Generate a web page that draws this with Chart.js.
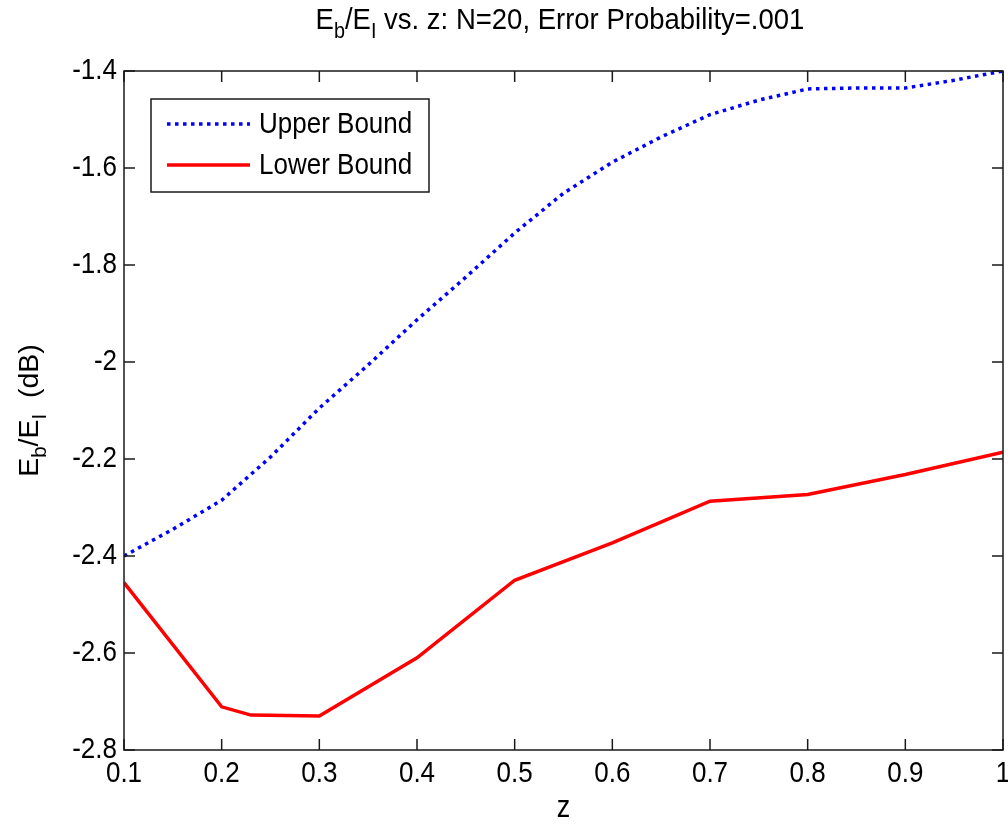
<!DOCTYPE html>
<html>
<head>
<meta charset="utf-8">
<script src="https://cdn.jsdelivr.net/npm/chart.js@4.4.1/dist/chart.umd.min.js"></script>
<style>
html, body { margin: 0; padding: 0; background: #fff; }
#c { display: block; }
</style>
</head>
<body>
<canvas id="c" width="1008" height="829"></canvas>
<script>
// values
const zUpper = [0.1, 0.15, 0.2, 0.25, 0.3, 0.35, 0.4, 0.45, 0.5, 0.55, 0.6, 0.65, 0.7, 0.75, 0.8, 0.85, 0.9, 0.95, 1.0];
const upperBound = [-2.40, -2.345, -2.285, -2.196, -2.095, -2.006, -1.913, -1.825, -1.734, -1.652, -1.588, -1.536, -1.49, -1.46, -1.437, -1.435, -1.435, -1.419, -1.40];
const zLower = [0.1, 0.2, 0.23, 0.3, 0.4, 0.5, 0.6, 0.7, 0.8, 0.9, 1.0];
const lowerBound = [-2.455, -2.711, -2.728, -2.73, -2.61, -2.45, -2.373, -2.287, -2.273, -2.232, -2.186];
const xTicks = [0.1, 0.2, 0.3, 0.4, 0.5, 0.6, 0.7, 0.8, 0.9, 1];
const yTicks = [-2.8, -2.6, -2.4, -2.2, -2, -1.8, -1.6, -1.4];
const seriesNames = ['Upper Bound', 'Lower Bound'];

const FONT = '"Liberation Sans", Arial, sans-serif';
const STRETCH = 1.14; // the reference text is a little taller than wide
const fmt = v => String(Math.round(v * 10) / 10);

function drawText(ctx, text, x, y, size, align, stretch) {
    ctx.save();
    ctx.translate(x, y);
    ctx.scale(1, stretch);
    ctx.font = size + 'px ' + FONT;
    ctx.textAlign = align;
    ctx.textBaseline = 'middle';
    ctx.fillText(text, 0, 0);
    ctx.restore();
}

// text with subscripts: parts = [[text, isSub], ...]
function drawRich(ctx, parts, cx, cy, size, stretch) {
    let w = 0;
    parts.forEach(p => {
        ctx.font = (p[1] ? size * 0.72 : size) + 'px ' + FONT;
        w += ctx.measureText(p[0]).width;
    });
    let x = cx - w / 2;
    ctx.save();
    ctx.translate(0, cy);
    ctx.scale(1, stretch);
    ctx.textBaseline = 'middle';
    ctx.textAlign = 'left';
    parts.forEach(p => {
        ctx.font = (p[1] ? size * 0.72 : size) + 'px ' + FONT;
        ctx.fillText(p[0], x, p[1] ? size * 0.36 : 0);
        x += ctx.measureText(p[0]).width;
    });
    ctx.restore();
}

const decorPlugin = {
    id: 'decor',
    afterDatasetsDraw(chart) {
        const ctx = chart.ctx;
        const a = chart.chartArea;
        const xs = chart.scales.x, ys = chart.scales.y;
        ctx.save();
        ctx.strokeStyle = '#1a1a1a';
        ctx.lineWidth = 1.5;
        ctx.strokeRect(a.left, a.top, a.right - a.left, a.bottom - a.top);
        const tl = 11;
        ctx.beginPath();
        xs.ticks.forEach(t => {
            const px = xs.getPixelForValue(t.value);
            ctx.moveTo(px, a.bottom); ctx.lineTo(px, a.bottom - tl);
            ctx.moveTo(px, a.top); ctx.lineTo(px, a.top + tl);
        });
        ys.ticks.forEach(t => {
            const py = ys.getPixelForValue(t.value);
            ctx.moveTo(a.left, py); ctx.lineTo(a.left + tl, py);
            ctx.moveTo(a.right, py); ctx.lineTo(a.right - tl, py);
        });
        ctx.stroke();

        // tick labels
        ctx.fillStyle = '#000';
        xs.ticks.forEach(t => drawText(ctx, fmt(t.value), xs.getPixelForValue(t.value), a.bottom + 24, 26, 'center', STRETCH));
        ys.ticks.forEach(t => drawText(ctx, fmt(t.value), a.left - 7, ys.getPixelForValue(t.value), 26, 'right', STRETCH));

        // legend
        ctx.fillStyle = '#fff';
        ctx.fillRect(151, 99, 278, 93);
        ctx.strokeRect(151, 99, 278, 93);
        const rows = [[124, '#0000ff', [3.5, 4.5]], [165, '#ff0000', []]];
        rows.forEach((r, i) => {
            ctx.strokeStyle = r[1];
            ctx.lineWidth = 3.5;
            ctx.setLineDash(r[2]);
            ctx.beginPath();
            ctx.moveTo(167, r[0]); ctx.lineTo(250, r[0]);
            ctx.stroke();
            ctx.setLineDash([]);
            ctx.fillStyle = '#000';
            drawText(ctx, seriesNames[i], 259, r[0] + 1, 26, 'left', STRETCH);
        });

        // title and axis titles
        ctx.fillStyle = '#000';
        drawRich(ctx, [['E', 0], ['b', 1], ['/E', 0], ['I', 1], [' vs. z: N=20, Error Probability=.001', 0]], 560, 21, 27.5, 1.1);
        drawText(ctx, 'z', (a.left + a.right) / 2, 809, 27, 'center', STRETCH);
        ctx.save();
        ctx.translate(30, (a.top + a.bottom) / 2);
        ctx.rotate(-Math.PI / 2);
        drawRich(ctx, [['E', 0], ['b', 1], ['/E', 0], ['I', 1], ['  (dB)', 0]], 0, 0, 28.5, 1);
        ctx.restore();
        ctx.restore();
    }
};

new Chart(document.getElementById('c').getContext('2d'), {
    type: 'line',
    data: {
        datasets: [{
            label: seriesNames[0],
            data: zUpper.map((z, i) => ({ x: z, y: upperBound[i] })),
            borderColor: '#0000ff',
            borderWidth: 3.5,
            borderDash: [3.5, 4.5],
            pointRadius: 0,
            tension: 0,
            fill: false
        }, {
            label: seriesNames[1],
            data: zLower.map((z, i) => ({ x: z, y: lowerBound[i] })),
            borderColor: '#ff0000',
            borderWidth: 3.5,
            pointRadius: 0,
            tension: 0,
            fill: false
        }]
    },
    options: {
        responsive: false,
        animation: false,
        devicePixelRatio: 1,
        layout: { padding: { top: 71, right: 5, bottom: 0, left: 0 } },
        plugins: { legend: { display: false }, tooltip: { enabled: false } },
        scales: {
            x: {
                type: 'linear',
                min: 0.1, max: 1,
                afterBuildTicks: s => { s.ticks = xTicks.map(v => ({ value: v })); },
                afterFit: s => { s.height = 79; s.paddingLeft = 0; s.paddingRight = 0; },
                grid: { display: false, drawTicks: false },
                border: { display: false },
                ticks: { display: false }
            },
            y: {
                type: 'linear',
                min: -2.8, max: -1.4,
                afterBuildTicks: s => { s.ticks = yTicks.map(v => ({ value: v })); },
                afterFit: s => { s.width = 124; s.paddingTop = 0; s.paddingBottom = 0; },
                grid: { display: false, drawTicks: false },
                border: { display: false },
                ticks: { display: false }
            }
        }
    },
    plugins: [decorPlugin]
});
</script>
</body>
</html>
